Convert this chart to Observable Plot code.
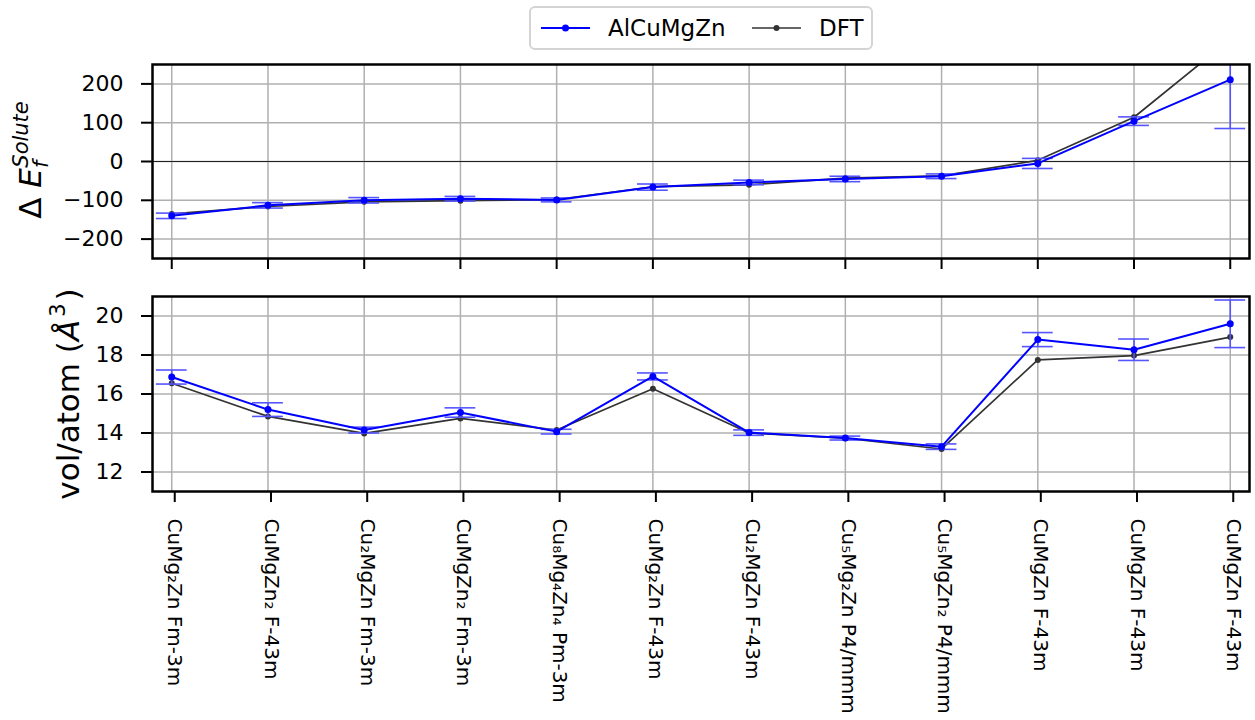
<!DOCTYPE html>
<html>
<head>
<meta charset="utf-8">
<script src="https://cdn.jsdelivr.net/npm/d3@7"></script>
<script src="https://cdn.jsdelivr.net/npm/@observablehq/plot@0.6"></script>
<style>
  body { margin: 0; background: #fff; font-family: "DejaVu Sans", sans-serif; }
  #wrap { position: relative; width: 1255px; height: 720px; overflow: hidden; }
  #legend { position: absolute; left: 529px; top: 6px; width: 340px; height: 40px;
            border: 2px solid #d4d4d4; border-radius: 6px; background: #fff;
            font-size: 23px; color: #000; }
  #legend .item { position: absolute; top: 0; height: 40px; display: flex; align-items: center; }
  #legend svg { display: block; }
  #legend span { margin-left: 18px; line-height: 40px; }
  #topChart, #botChart { display: block; }
</style>
</head>
<body>
<div id="wrap">
  <div style="height:56px"></div>
  <div id="legend"></div>
  <div id="topChart"></div>
  <div id="botChart"></div>
</div>
<script>
// ---------- data ----------
const labels = [
  "CuMg₂Zn Fm-3m", "CuMgZn₂ F-43m", "Cu₂MgZn Fm-3m", "CuMgZn₂ Fm-3m",
  "Cu₈Mg₄Zn₄ Pm-3m", "CuMg₂Zn F-43m", "Cu₂MgZn F-43m", "Cu₅Mg₂Zn P4/mmm",
  "Cu₅MgZn₂ P4/mmm", "CuMgZn F-43m", "CuMgZn F-43m", "CuMgZn F-43m"
];
const seriesNames = ["AlCuMgZn", "DFT"];
const energyModel = [-140, -113, -100, -96, -99, -66, -54, -45, -38, -5, 104, 211];
const energyErr   = [7, 7, 7, 6, 5, 8, 6, 7, 6, 13, 11, 126];
const energyDFT   = [-135, -116, -104, -101, -98, -65, -60, -43, -37, 3, 114, 315];
const volModel = [16.87, 15.2, 14.15, 15.05, 14.07, 16.9, 14.02, 13.74, 13.3, 18.79, 18.27, 19.6];
const volErr   = [0.36, 0.35, 0.15, 0.24, 0.12, 0.18, 0.14, 0.1, 0.14, 0.36, 0.55, 1.22];
const volDFT   = [16.55, 14.85, 13.98, 14.75, 14.15, 16.27, 14.0, 13.73, 13.18, 17.75, 17.97, 18.92];
const energyTicks = [-200, -100, 0, 100, 200];
const volTicks = [12, 14, 16, 18, 20];

// ---------- styles ----------
const BLUE = "#0000ff", BLUE_ERR = "#5555ff", DARK = "#333333", GRID = "#b0b0b0";
const cap = 0.16;
const idx = d3.range(labels.length);

function build(model, err, dft) {
  return idx.map(i => ({ i, model: model[i], err: err[i], dft: dft[i] }));
}

function panel(data, opts) {
  return Plot.plot({
    width: 1255, height: opts.height,
    marginLeft: 152, marginRight: 6, marginTop: opts.marginTop, marginBottom: opts.marginBottom,
    style: { fontFamily: "DejaVu Sans, sans-serif", fontSize: "22px", color: "black", background: "white", overflow: "visible" },
    x: { domain: [-0.2, 11.2], label: null },
    y: { domain: opts.domain, label: null },
    marks: [
      Plot.gridX(idx, { stroke: GRID, strokeOpacity: 1, strokeWidth: 1.5 }),
      Plot.gridY(opts.ticks, { stroke: GRID, strokeOpacity: 1, strokeWidth: 1.5 }),
      opts.zero ? Plot.ruleY([0], { stroke: "#222", strokeWidth: 1.1 }) : null,
      Plot.line(data, { x: "i", y: "dft", stroke: DARK, strokeWidth: 1.7, clip: true }),
      Plot.dot(data, { x: "i", y: "dft", r: 3, fill: DARK, clip: true }),
      Plot.ruleX(data, { x: "i", y1: d => d.model - d.err, y2: d => d.model + d.err, stroke: BLUE_ERR, strokeWidth: 1.6, clip: true }),
      Plot.ruleY(data, { y: d => d.model - d.err, x1: d => d.i - cap, x2: d => d.i + cap, stroke: BLUE_ERR, strokeWidth: 1.6, clip: true }),
      Plot.ruleY(data, { y: d => d.model + d.err, x1: d => d.i - cap, x2: d => d.i + cap, stroke: BLUE_ERR, strokeWidth: 1.6, clip: true }),
      Plot.line(data, { x: "i", y: "model", stroke: BLUE, strokeWidth: 2, clip: true }),
      Plot.dot(data, { x: "i", y: "model", r: 3.5, fill: BLUE, clip: true }),
      Plot.axisY({ ticks: opts.ticks, tickFormat: d3.format("d"), tickSize: 11, tickPadding: 18,
                   fontSize: 22, stroke: "black", strokeWidth: 2, label: null }),
      opts.xlabels
        ? Plot.axisX({ ticks: idx, tickFormat: i => labels[i], tickRotate: 90, tickSize: 11, tickPadding: 16,
                       fontSize: 20, stroke: "black", strokeWidth: 2, label: null, dx: 3 })
        : Plot.axisX({ ticks: idx, tickFormat: () => "", tickSize: 11, stroke: "black", strokeWidth: 2, label: null }),
      Plot.frame({ stroke: "black", strokeWidth: 2.5 })
    ]
  });
}

// ---------- top panel ----------
const topSvg = panel(build(energyModel, energyErr, energyDFT), {
  height: 222, marginTop: 8, marginBottom: 20, domain: [-250, 250], ticks: energyTicks, zero: true, xlabels: false
});
document.getElementById("topChart").appendChild(topSvg);
{
  const t = d3.select(topSvg).append("text")
    .attr("transform", "translate(41,104) rotate(-90)")
    .attr("text-anchor", "middle")
    .attr("font-family", "DejaVu Sans, sans-serif")
    .attr("font-size", 31).attr("fill", "black");
  t.append("tspan").text("Δ ");
  t.append("tspan").attr("font-style", "italic").text("E");
  t.append("tspan").attr("font-style", "italic").attr("font-size", 21).attr("dy", 7).text("f");
  t.append("tspan").attr("font-style", "italic").attr("font-size", 21).attr("dx", -7).attr("dy", -20).text("Solute");
}

// ---------- bottom panel ----------
const botSvg = panel(build(volModel, volErr, volDFT), {
  height: 442, marginTop: 18, marginBottom: 229, domain: [11, 21], ticks: volTicks, zero: false, xlabels: true
});
document.getElementById("botChart").appendChild(botSvg);
{
  const t = d3.select(botSvg).append("text")
    .attr("transform", "translate(79,116) rotate(-90)")
    .attr("text-anchor", "middle")
    .attr("font-family", "DejaVu Sans, sans-serif")
    .attr("font-size", 31).attr("fill", "black");
  t.append("tspan").text("vol/atom (");
  t.append("tspan").attr("font-style", "italic").text("Å");
  t.append("tspan").attr("font-size", 21).attr("dx", 3).attr("dy", -14).text("3");
  t.append("tspan").attr("dx", 3).attr("dy", 14).text(")");
}

// ---------- legend ----------
const legendColors = [BLUE, DARK];
const legendLeft = [10, 221];
const legend = d3.select("#legend");
seriesNames.forEach((name, k) => {
  const item = legend.append("div").attr("class", "item").style("left", legendLeft[k] + "px");
  const s = item.append("svg").attr("width", 49).attr("height", 12);
  s.append("line").attr("x1", 0).attr("x2", 49).attr("y1", 6).attr("y2", 6)
    .attr("stroke", legendColors[k]).attr("stroke-width", k === 0 ? 1.8 : 1.6);
  s.append("circle").attr("cx", 24.5).attr("cy", 6).attr("r", k === 0 ? 3.5 : 3).attr("fill", legendColors[k]);
  item.append("span").text(name);
});
</script>
</body>
</html>
